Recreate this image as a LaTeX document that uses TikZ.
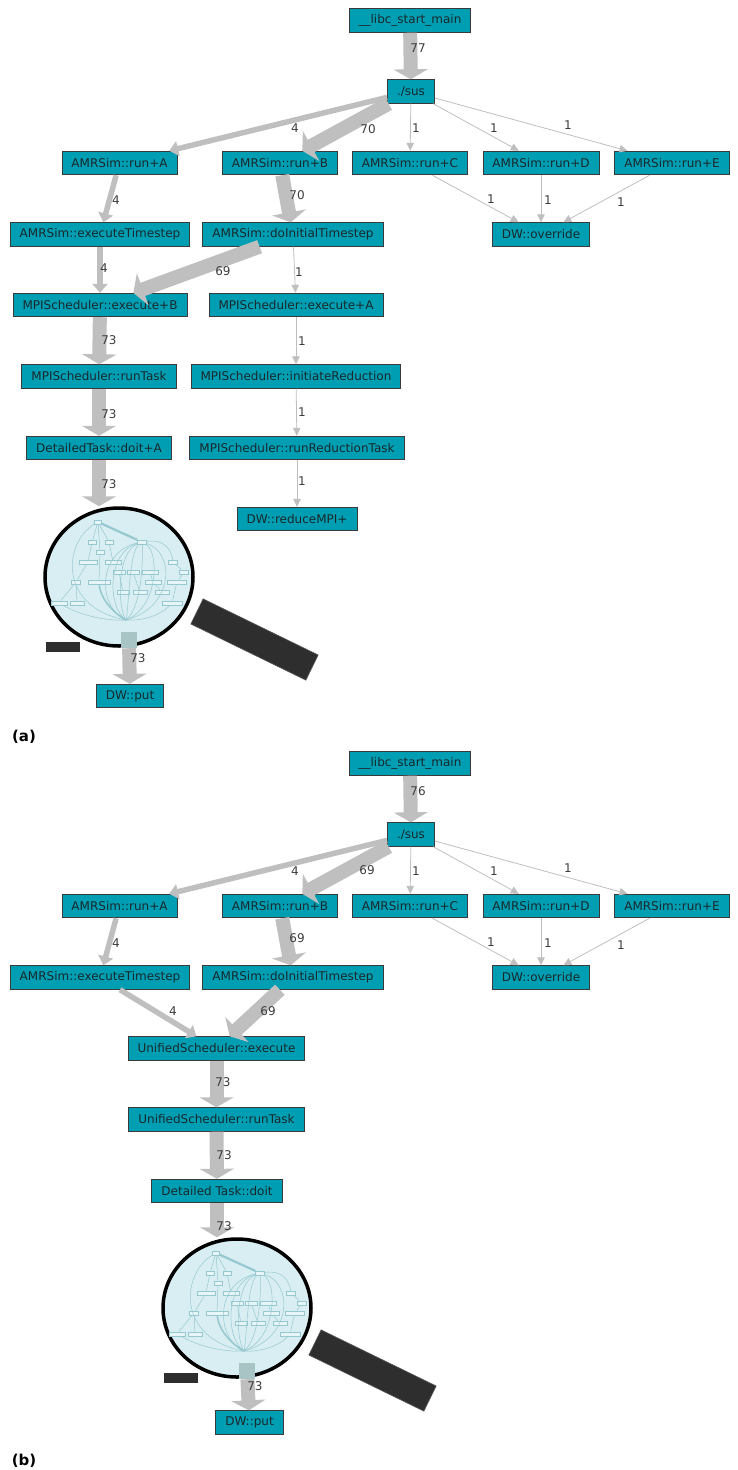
\documentclass[tikz,border=0pt]{standalone}
\usepackage{fontspec}
\setmainfont{DejaVu Sans}
\usetikzlibrary{arrows.meta,shapes.geometric}
\definecolor{boxteal}{RGB}{0,158,178}
\definecolor{boxline}{RGB}{58,58,58}
\definecolor{boxtext}{RGB}{28,40,44}
\definecolor{edgegrey}{RGB}{191,191,191}
\definecolor{numgrey}{RGB}{60,60,60}
\definecolor{glassfill}{RGB}{216,238,242}
\definecolor{thumbteal}{RGB}{150,200,207}
\definecolor{handlegrey}{RGB}{46,46,46}
\definecolor{handleedge}{RGB}{90,90,90}
\definecolor{bandfade}{RGB}{168,196,197}
\begin{document}
\begin{tikzpicture}[x=1pt, y=-1pt,
fn/.style={draw=boxline, fill=boxteal, line width=0.9pt, text=boxtext, inner xsep=9.5pt, inner ysep=0pt, minimum height=23.5pt, font=\fontsize{12}{14}\selectfont},
num/.style={text=numgrey, inner sep=0pt, font=\fontsize{12}{14}\selectfont},
tag/.style={inner sep=0pt, font=\fontsize{15}{17}\selectfont\bfseries},
w1/.style={draw=edgegrey, line width=0.8pt, -{Triangle[length=8pt,width=7.5pt]}},
w4/.style={draw=edgegrey, line width=5.5pt, -{Triangle[length=9pt,width=15pt]}},
w73/.style={draw=edgegrey, line width=14pt, -{Triangle[length=10pt,width=34pt]}},
thumb/.style={draw=thumbteal, fill=white!40!glassfill, line width=0.4pt, minimum height=4.5pt, inner sep=0pt},
thumbline/.style={draw=thumbteal, line width=0.5pt},
lens/.pic={
  \node[draw=handleedge, fill=handlegrey, line width=0.6pt, minimum width=128pt, minimum height=28pt, inner sep=0pt, rotate=-26] (-handle) at (135.5,62.5) {};
  \node[draw=black, fill=glassfill, line width=3.5pt, ellipse, minimum width=148pt, minimum height=138pt, inner sep=0pt] (-glass) at (0,0) {};
  \node[fill=handlegrey, minimum width=34pt, minimum height=10pt, inner sep=0pt] (-bar) at (-56,70) {};
  % little call graph seen through the glass
  \foreach \x/\y/\w [count=\i] in {-21/-55/7, -27/-35/8, -10/-35/8, -19/-25/8, 23/-35/9, -31/-15/18, -6/-15/16, 0/-5/12, 14/-5/12, 31/-5/16, 54/-15/9, 65/-5/9, -43/5/9, -20/5/22, 34/5/16, 58/5/19, 4/15/12, 21/15/14, 43/15/14, -60/26/16, -42/26/14, 53/26/20}
    \node[thumb, minimum width=\w pt] (-t\i) at (\x,\y) {};
  \draw[thumbline] (-t1) -- (-t2) (-t1) -- (-t3) (-t1) -- (-t4) (-t2) -- (-t6) (-t3) -- (-t7) (-t6) -- (-t13) (-t13) -- (-t20) (-t13) -- (-t21) (-t11) -- (-t12) (-t12) -- (-t16) (-t16) -- (-t22) (-t4) -- (-t14) (-t10) -- (-t15) (-t8) -- (-t17) (-t9) -- (-t18) (-t15) -- (-t19);
  \draw[thumbline, line width=2.2pt] (-t1) -- (-t5);
  \draw[thumbline, line width=1.5pt] (-t14) .. controls (-18,25) and (-2,38) .. (7,43);
  \foreach \cx in {-22,-12,-2,10,24,40,56}
    \draw[thumbline] (-t5) .. controls (\cx,-25) and (\cx,30) .. (7,43);
  \draw[thumbline] (-t1) .. controls (-55,-35) and (-62,30) .. (7,43);
  \draw[thumbline] (-t20) .. controls (-35,40) and (-10,44) .. (7,43);
  \draw[thumbline] (-t22) .. controls (40,40) and (20,44) .. (7,43);
  \draw[thumbline] (-t5) .. controls (45,-38) and (52,-28) .. (-t11);
  \node[fill=bandfade, minimum width=16pt, minimum height=16pt, inner sep=0pt] (-sq) at (10,63) {};
}]
\useasboundingbox (0,0) rectangle (737,1470);

% ---------------- (a) ----------------
\begin{scope}
\node[fn] (libcA) at (410,20.5) {\_\_libc\_start\_main};
\node[fn] (susA) at (411,91.5) {./sus};
\node[fn] (runAa) at (119.5,163) {AMRSim::run+A};
\node[fn] (runBa) at (280,163) {AMRSim::run+B};
\node[fn] (runCa) at (410,163) {AMRSim::run+C};
\node[fn] (runDa) at (541,163) {AMRSim::run+D};
\node[fn] (runEa) at (672,163) {AMRSim::run+E};
\node[fn] (stepA) at (100,234.5) {AMRSim::executeTimestep};
\node[fn] (initA) at (293,234.5) {AMRSim::doInitialTimestep};
\node[fn] (overA) at (541,234.5) {DW::override};
\node[fn] (mpiexB) at (100,305) {MPIScheduler::execute+B};
\node[fn] (mpiexA) at (296,305) {MPIScheduler::execute+A};
\node[fn] (mpirun) at (99,376.5) {MPIScheduler::runTask};
\node[fn] (mpired) at (296,376.5) {MPIScheduler::initiateReduction};
\node[fn] (doitA) at (99,448) {DetailedTask::doit+A};
\node[fn] (mpirrt) at (297,448) {MPIScheduler::runReductionTask};
\node[fn] (redA) at (297,519) {DW::reduceMPI+};
\pic (lensA) at (119,577) {lens};
\node[fn] (putA) at (130,696) {DW::put};
\node[tag] (tagA) at (24,737) {(a)};
\end{scope}
\begin{scope}
\draw[w73] (libcA) -- (susA);
\draw[w4] (susA) -- (runAa);
\draw[w73] (susA) -- (runBa);
\draw[w1] (susA) -- (runCa);
\draw[w1] (susA) -- (runDa);
\draw[w1] (susA) -- (runEa);
\draw[w1] (runCa) -- (overA);
\draw[w1] (runDa) -- (overA);
\draw[w1] (runEa) -- (overA);
\draw[w4] (runAa) -- (stepA);
\draw[w73] (runBa) -- (initA);
\draw[w4] (stepA) -- (mpiexB);
\draw[w73] (initA) -- (mpiexB);
\draw[w1] (initA) -- (mpiexA);
\draw[w73] (mpiexB) -- (mpirun);
\draw[w73] (mpirun) -- (doitA);
\draw[w73] (doitA) -- (doitA |- lensA-glass.north);
\draw[w1] (mpiexA) -- (mpired);
\draw[w1] (mpired) -- (mpirrt);
\draw[w1] (mpirrt) -- (redA);
\draw[w73] (lensA-sq) -- (putA);
\end{scope}
\begin{scope}
\node[num] (na1) at (418,48) {77};
\node[num] (na2) at (295,128) {4};
\node[num] (na3) at (368,129) {70};
\node[num] (na4) at (416,128) {1};
\node[num] (na5) at (494,128) {1};
\node[num] (na6) at (568,125) {1};
\node[num] (na7) at (491,199) {1};
\node[num] (na8) at (548,200) {1};
\node[num] (na9) at (621,202) {1};
\node[num] (na10) at (116,200) {4};
\node[num] (na11) at (297,195) {70};
\node[num] (na12) at (104,268) {4};
\node[num] (na13) at (223,271) {69};
\node[num] (na14) at (299,272) {1};
\node[num] (na15) at (109,340) {73};
\node[num] (na16) at (109,414) {73};
\node[num] (na17) at (109,484) {73};
\node[num] (na18) at (302,341) {1};
\node[num] (na19) at (302,412) {1};
\node[num] (na20) at (302,481) {1};
\node[num] (na21) at (138,658) {73};
\end{scope}

% ---------------- (b) ----------------
\begin{scope}
\node[fn] (libcB) at (410,763.5) {\_\_libc\_start\_main};
\node[fn] (susB) at (411,834.5) {./sus};
\node[fn] (runAb) at (119.5,906) {AMRSim::run+A};
\node[fn] (runBb) at (280,906) {AMRSim::run+B};
\node[fn] (runCb) at (410,906) {AMRSim::run+C};
\node[fn] (runDb) at (541,906) {AMRSim::run+D};
\node[fn] (runEb) at (672,906) {AMRSim::run+E};
\node[fn] (stepB) at (100,977.5) {AMRSim::executeTimestep};
\node[fn] (initB) at (293,977.5) {AMRSim::doInitialTimestep};
\node[fn] (overB) at (541,977.5) {DW::override};
\node[fn] (uniex) at (216.5,1048.5) {UnifiedScheduler::execute};
\node[fn] (unirun) at (216.5,1119.5) {UnifiedScheduler::runTask};
\node[fn] (doitB) at (217,1191) {Detailed Task::doit};
\pic (lensB) at (237,1308) {lens};
\node[fn] (putB) at (249.5,1422.5) {DW::put};
\node[tag] (tagB) at (24,1461) {(b)};
\end{scope}
\begin{scope}
\draw[w73] (libcB) -- (susB);
\draw[w4] (susB) -- (runAb);
\draw[w73] (susB) -- (runBb);
\draw[w1] (susB) -- (runCb);
\draw[w1] (susB) -- (runDb);
\draw[w1] (susB) -- (runEb);
\draw[w1] (runCb) -- (overB);
\draw[w1] (runDb) -- (overB);
\draw[w1] (runEb) -- (overB);
\draw[w4] (runAb) -- (stepB);
\draw[w73] (runBb) -- (initB);
\draw[w4] (stepB) -- (uniex);
\draw[w73] (initB) -- (uniex);
\draw[w73] (uniex) -- (unirun);
\draw[w73] (unirun) -- (doitB);
\draw[w73] (doitB) -- (doitB |- lensB-glass.north);
\draw[w73] (lensB-sq) -- (putB);
\end{scope}
\begin{scope}
\node[num] (nb1) at (418,791) {76};
\node[num] (nb2) at (295,871) {4};
\node[num] (nb3) at (367,870) {69};
\node[num] (nb4) at (416,871) {1};
\node[num] (nb5) at (494,871) {1};
\node[num] (nb6) at (568,868) {1};
\node[num] (nb7) at (491,942) {1};
\node[num] (nb8) at (548,943) {1};
\node[num] (nb9) at (621,945) {1};
\node[num] (nb10) at (116,943) {4};
\node[num] (nb11) at (297,938) {69};
\node[num] (nb12) at (173,1011) {4};
\node[num] (nb13) at (268,1011) {69};
\node[num] (nb14) at (223,1082) {73};
\node[num] (nb15) at (224,1155) {73};
\node[num] (nb16) at (224,1226) {73};
\node[num] (nb17) at (255,1386) {73};
\end{scope}
\end{tikzpicture}
\end{document}
